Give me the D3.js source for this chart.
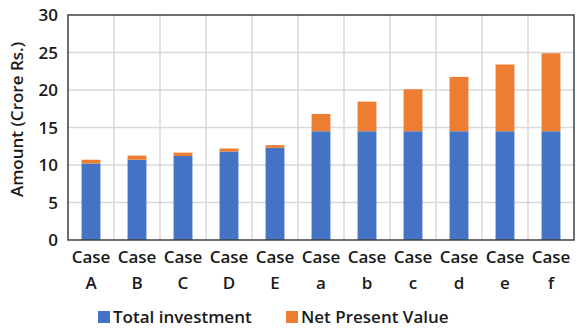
<!DOCTYPE html>
<html>
<head>
<meta charset="utf-8">
<script src="https://cdn.jsdelivr.net/npm/d3@7"></script>
<style>
  html, body { margin: 0; padding: 0; background: #fff; }
  svg text { font-family: "Open Sans", "Noto Sans", sans-serif; font-weight: 600; fill: #1a1a1a; }
</style>
</head>
<body>
<svg id="chart" width="577" height="329"></svg>
<script>
// Cases and their stacked amounts (Crore Rs.)
const caseLetters = ["A", "B", "C", "D", "E", "a", "b", "c", "d", "e", "f"];
const totalInvestment = [10.2, 10.7, 11.2, 11.8, 12.3, 14.5, 14.5, 14.5, 14.5, 14.5, 14.5];
const netPresentValue = [0.5, 0.55, 0.45, 0.4, 0.35, 2.3, 3.95, 5.6, 7.25, 8.9, 10.4];
const yTicks = [0, 5, 10, 15, 20, 25, 30];
const seriesNames = ["Total investment", "Net Present Value"];
const seriesColors = ["#4472C4", "#ED7D31"];

const svg = d3.select("#chart");
const m = { left: 68, right: 3, top: 15, bottom: 89 };
const W = 577, H = 329;
const pw = W - m.left - m.right, ph = H - m.top - m.bottom;
const fs = "17px";

const x = d3.scaleBand().domain(caseLetters).range([m.left, m.left + pw]).paddingInner(0.59).paddingOuter(0.295);
const xGrid = d3.scaleLinear().domain([0, caseLetters.length]).range([m.left, m.left + pw]);
const y = d3.scaleLinear().domain([0, 30]).range([m.top + ph, m.top]);

// Gridlines
const g = svg.append("g");
g.selectAll("line.h").data(yTicks.slice(1, -1)).join("line")
  .attr("x1", m.left).attr("x2", m.left + pw)
  .attr("y1", d => y(d)).attr("y2", d => y(d))
  .attr("stroke", "#d9d9d9").attr("stroke-width", 1.5);
g.selectAll("line.v").data(d3.range(1, caseLetters.length)).join("line")
  .attr("x1", d => xGrid(d)).attr("x2", d => xGrid(d))
  .attr("y1", m.top).attr("y2", m.top + ph)
  .attr("stroke", "#d9d9d9").attr("stroke-width", 1.5);

// Stacked bars
const rows = caseLetters.map((c, i) => ({ c, inv: totalInvestment[i], npv: netPresentValue[i] }));
const stack = d3.stack().keys(["inv", "npv"])(rows);
svg.append("g").selectAll("g").data(stack).join("g")
  .attr("fill", (d, i) => seriesColors[i])
  .selectAll("rect").data(d => d).join("rect")
  .attr("x", d => x(d.data.c))
  .attr("width", x.bandwidth())
  .attr("y", d => y(d[1]))
  .attr("height", d => y(d[0]) - y(d[1]));

// Plot frame
svg.append("rect").attr("x", m.left).attr("y", m.top).attr("width", pw).attr("height", ph)
  .attr("fill", "none").attr("stroke", "#404040").attr("stroke-width", 1.5);

// Y axis
const yAxis = svg.append("g").attr("transform", `translate(${m.left},0)`)
  .call(d3.axisLeft(y).tickValues(yTicks).tickSize(0).tickPadding(10));
yAxis.select(".domain").remove();
yAxis.selectAll("text").style("font-size", fs).attr("dy", "0.35em");

// X axis labels (two lines)
const xAxis = svg.append("g").attr("transform", `translate(0,${m.top + ph})`)
  .call(d3.axisBottom(x).tickSize(0).tickFormat(""));
xAxis.select(".domain").remove();
xAxis.selectAll(".tick").each(function(d) {
  const t = d3.select(this).append("text").attr("text-anchor", "middle").style("font-size", fs);
  t.append("tspan").attr("x", 0).attr("y", 23).text("Case");
  t.append("tspan").attr("x", 0).attr("y", 49).text(d);
});

// Y axis title
svg.append("text")
  .attr("transform", `translate(23,${m.top + ph / 2 - 8}) rotate(-90)`)
  .attr("text-anchor", "middle").style("font-size", fs)
  .text("Amount (Crore Rs.)");

// Legend
const legendX = [98, 286];
const leg = svg.append("g").selectAll("g").data(seriesNames).join("g")
  .attr("transform", (d, i) => `translate(${legendX[i]},317)`);
leg.append("rect").attr("x", 0).attr("y", -6).attr("width", 12).attr("height", 12)
  .attr("fill", (d, i) => seriesColors[i]);
leg.append("text").attr("x", 15).attr("dy", "0.35em").style("font-size", fs).text(d => d);
</script>
</body>
</html>
